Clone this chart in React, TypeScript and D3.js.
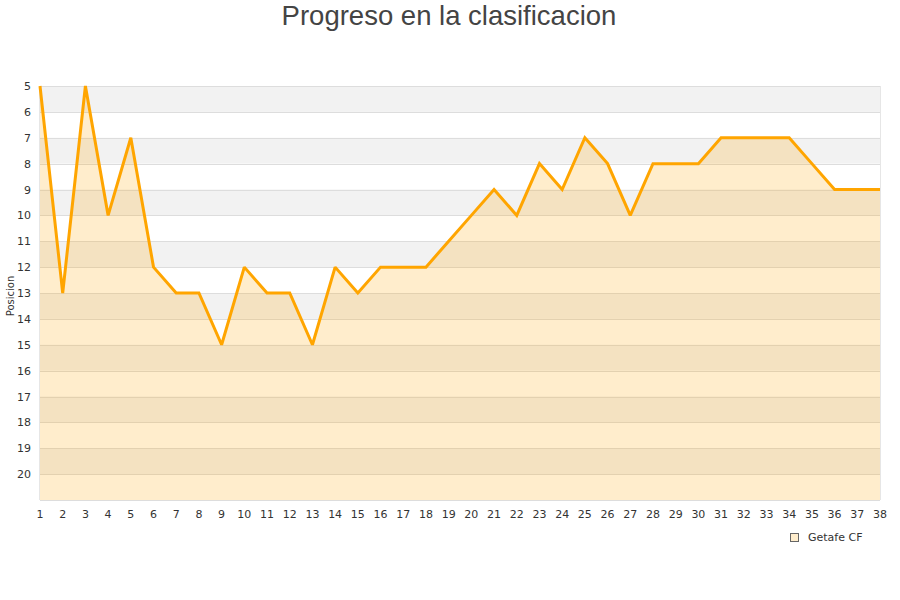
import React from "react";
import * as d3 from "d3";

const jornadas = d3.range(1, 39);
const posiciones = [5, 13, 5, 10, 7, 12, 13, 13, 15, 12, 13, 13, 15, 12, 13, 12, 12, 12, 11, 10, 9, 10, 8, 9, 7, 8, 10, 8, 8, 8, 7, 7, 7, 7, 8, 9, 9, 9];
const yTicks = d3.range(5, 21);
const title = "Progreso en la clasificacion";
const yLabel = "Posicion";
const seriesName = "Getafe CF";

export default function App() {
  const W = 900, H = 600;
  const left = 40, right = 880, top = 86, bottom = 500;
  const x = d3.scaleLinear().domain([1, 38]).range([left, right]);
  const y = d3.scaleLinear().domain([5, 21]).range([top, bottom]);
  const data = jornadas.map((j, i) => ({ j, p: posiciones[i] }));
  const line = d3.line<{ j: number; p: number }>().x(d => x(d.j)).y(d => y(d.p));
  const area = d3.area<{ j: number; p: number }>().x(d => x(d.j)).y0(y(21)).y1(d => y(d.p));
  const bands = d3.range(5, 21, 2);
  const font = "'DejaVu Sans', Verdana, sans-serif";
  return (
    <svg width={W} height={H} style={{ position: "absolute", left: 0, top: 0 }}>
      <rect x={0} y={0} width={W} height={H} fill="#fff" />
      <text x={449} y={25} textAnchor="middle" fontFamily="'Liberation Sans', Arial, sans-serif" fontSize={27.5} fill="#444">{title}</text>
      {bands.map(b => (
        <rect key={b} x={left} y={y(b)} width={right - left} height={y(b + 1) - y(b)} fill="#f2f2f2" />
      ))}
      {yTicks.concat([21]).map(t => (
        <line key={t} x1={left} x2={right} y1={Math.round(y(t)) + 0.5} y2={Math.round(y(t)) + 0.5} stroke="#dddddd" strokeWidth={1} />
      ))}
      <line x1={right + 0.5} x2={right + 0.5} y1={top} y2={bottom} stroke="#e6e6e6" />
      <line x1={left - 0.5} x2={left - 0.5} y1={top} y2={bottom} stroke="#e6e6e6" />
      <path d={area(data) || ""} fill="rgba(255,165,0,0.2)" />
      <path d={line(data) || ""} fill="none" stroke="#ffa500" strokeWidth={3} strokeLinejoin="miter" strokeMiterlimit={2} />
      {yTicks.map(t => (
        <text key={t} x={31} y={y(t) + 4} textAnchor="end" fontFamily={font} fontSize={11} fill="#333">{t}</text>
      ))}
      {jornadas.map(j => (
        <text key={j} x={x(j)} y={518} textAnchor="middle" fontFamily={font} fontSize={11} fill="#333">{j}</text>
      ))}
      <text transform={`translate(14,296) rotate(-90)`} textAnchor="middle" fontFamily={font} fontSize={10} fill="#333">{yLabel}</text>
      <rect x={790.5} y={533.5} width={8} height={8} fill="#ffedcc" stroke="#666" strokeWidth={1} />
      <text x={808} y={541} fontFamily={font} fontSize={11} fill="#333">{seriesName}</text>
    </svg>
  );
}
